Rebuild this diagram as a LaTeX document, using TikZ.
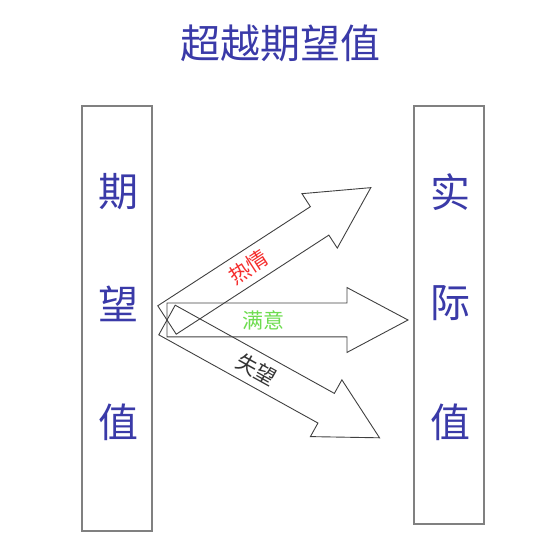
\documentclass[tikz,border=0pt]{standalone}
\usepackage{fontspec}
\newfontfamily\cjk{Noto Sans CJK SC}
\usetikzlibrary{shapes.arrows}

\definecolor{titleblue}{RGB}{58,58,168}
\definecolor{hotred}{RGB}{245,45,45}
\definecolor{okgreen}{RGB}{110,220,80}

\begin{document}
\begin{tikzpicture}[x=1pt,y=1pt,
    valuebox/.style={draw=black!50, line width=1.6pt, minimum width=70pt, inner sep=0pt},
    boxchar/.style={font=\cjk\fontsize{40}{40}\selectfont, text=titleblue},
    fanarrow/.style={shape=single arrow, draw=black!75, line width=0.9pt,
        minimum height=243pt, single arrow head extend=15.5pt,
        single arrow tip angle=56, inner xsep=0pt, inner ysep=16.5pt, outer sep=0pt, anchor=tail},
    arrowtext/.style={font=\cjk\fontsize{21}{21}\selectfont, sloped, pos=0.4}]
    \useasboundingbox (0,0) rectangle (550,557);
    % title
    \node[font=\cjk\fontsize{40}{40}\selectfont, text=titleblue] (title) at (280,514) {超越期望值};
    % the two value columns
    \node[valuebox, minimum height=425pt] (expect) at (117,238.5) {};
    \node[valuebox, minimum height=418pt] (actual) at (449,242) {};
    \node[boxchar] (e1) at (118,365) {期};
    \node[boxchar] (e2) at (118,253) {望};
    \node[boxchar] (e3) at (118,135) {值};
    \node[boxchar] (a1) at (450,365) {实};
    \node[boxchar] (a2) at (450,254) {际};
    \node[boxchar] (a3) at (450,135) {值};
    % the fan of arrows
    \coordinate (fan) at (167,237);
    \node[fanarrow, rotate=33] (hot) at (fan) {};
    \node[fanarrow, minimum height=241pt] (ok) at (fan) {};
    \node[fanarrow, rotate=-29] (fail) at (fan) {};
    \path (hot.tail) -- (hot.tip) node[arrowtext, text=hotred] {热情};
    \path (ok.tail) -- (ok.tip) node[arrowtext, text=okgreen] {满意};
    \path (fail.tail) -- (fail.tip) node[arrowtext, pos=0.42, text=black!80] {失望};
\end{tikzpicture}
\end{document}
